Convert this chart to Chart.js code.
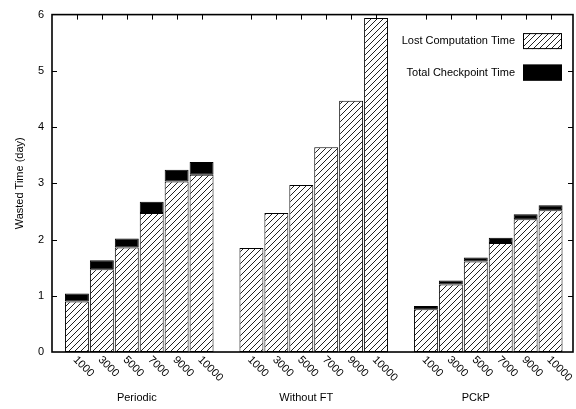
<!DOCTYPE html>
<html>
<head>
<meta charset="utf-8">
<script src="https://cdn.jsdelivr.net/npm/chart.js@4/dist/chart.umd.min.js"></script>
<style>
  html, body { margin: 0; padding: 0; background: #fff; }
  #wrap { width: 576px; height: 409px; }
</style>
</head>
<body>
<div id="wrap"><canvas id="c" width="576" height="409"></canvas></div>
<script>
// Checkpoint interval runs and the three strategies compared
const runLabels = ['1000', '3000', '5000', '7000', '9000', '10000'];
const groupNames = ['Periodic', 'Without FT', 'PCkP'];

// Wasted time in days
const periodicLost = [0.90, 1.47, 1.86, 2.47, 3.03, 3.15];
const periodicCheckpoint = [0.14, 0.16, 0.16, 0.20, 0.21, 0.23];
const withoutFtLost = [1.85, 2.47, 2.97, 3.64, 4.47, 5.94];
const pckpLost = [0.76, 1.20, 1.61, 1.94, 2.36, 2.52];
const pckpCheckpoint = [0.06, 0.07, 0.07, 0.09, 0.09, 0.09];

const yTicks = [0, 1, 2, 3, 4, 5, 6];

const FONT = '"Liberation Sans", Arial, Helvetica, sans-serif';

// each group occupies six slots on the x axis, one empty slot between groups
const groupStart = [0, 7, 14];
const groupLabelAt = [2.4, 9.2, 16.0];
const slotOf = (g, i) => groupStart[g] + i;

function series(g, values) {
  return values.map((v, i) => ({ x: slotOf(g, i), y: v }));
}

const lostPoints = [
  ...series(0, periodicLost),
  ...series(1, withoutFtLost),
  ...series(2, pckpLost)
];
const checkpointPoints = [
  ...series(0, periodicCheckpoint),
  ...series(2, pckpCheckpoint)
];

const slotTicks = [];
groupStart.forEach((s, g) => runLabels.forEach((lab, i) => slotTicks.push({ value: slotOf(g, i), label: lab })));

// diagonal hatch fill for the lost computation bars
const hatch = (() => {
  const c = document.createElement('canvas');
  c.width = 6; c.height = 6;
  const g = c.getContext('2d');
  g.fillStyle = '#fff';
  g.fillRect(0, 0, 6, 6);
  g.strokeStyle = '#222';
  g.lineWidth = 1;
  g.beginPath();
  g.moveTo(-1, 7); g.lineTo(7, -1);
  g.moveTo(-1, 1); g.lineTo(1, -1);
  g.moveTo(5, 7); g.lineTo(7, 5);
  g.stroke();
  return g.createPattern(c, 'repeat');
})();

// border box, inward tick marks, rotated run labels and the key
const framePlugin = {
  id: 'frame',
  afterDatasetsDraw(chart) {
    const { ctx, chartArea: a, scales } = chart;
    ctx.save();
    ctx.strokeStyle = '#000';
    ctx.lineWidth = 1;
    ctx.beginPath();
    scales.y.ticks.forEach(t => {
      if (t.value <= 0 || t.value >= 6) return;
      const py = Math.round(scales.y.getPixelForValue(t.value)) + 0.5;
      ctx.moveTo(a.left, py); ctx.lineTo(a.left + 5, py);
      ctx.moveTo(a.right, py); ctx.lineTo(a.right - 5, py);
    });
    slotTicks.forEach(t => {
      const px = Math.round(scales.x.getPixelForValue(t.value)) + 0.5;
      ctx.moveTo(px, a.top); ctx.lineTo(px, a.top + 5);
    });
    ctx.stroke();
    ctx.lineWidth = 1.6;
    ctx.strokeRect(a.left, a.top, a.right - a.left, a.bottom - a.top);

    // run labels, rotated downward to the right
    ctx.fillStyle = '#000';
    ctx.font = '11px ' + FONT;
    ctx.textAlign = 'left';
    ctx.textBaseline = 'middle';
    slotTicks.forEach(t => {
      const px = scales.x.getPixelForValue(t.value);
      ctx.save();
      ctx.translate(px - 2, a.bottom + 6);
      ctx.rotate(Math.PI / 4);
      ctx.fillText(t.label, 0, 0);
      ctx.restore();
    });

    // key in the upper right corner
    const ds = chart.data.datasets;
    const keyRows = [a.top + 26.5, a.top + 58];
    ds.forEach((d, i) => {
      const cy = keyRows[i];
      ctx.textAlign = 'right';
      ctx.textBaseline = 'middle';
      ctx.fillText(d.label, a.right - 58, cy);
      ctx.fillStyle = d.backgroundColor;
      ctx.fillRect(a.right - 50, cy - 8, 39, 16);
      ctx.strokeStyle = '#000';
      ctx.lineWidth = 1;
      ctx.strokeRect(a.right - 49.5, cy - 7.5, 38, 15);
      ctx.fillStyle = '#000';
    });
    ctx.restore();
  }
};

new Chart(document.getElementById('c'), {
  type: 'bar',
  data: {
    datasets: [
      {
        label: 'Lost Computation Time',
        data: lostPoints,
        backgroundColor: hatch,
        borderColor: '#000',
        borderWidth: 1,
        borderSkipped: false
      },
      {
        label: 'Total Checkpoint Time',
        data: checkpointPoints,
        backgroundColor: '#000',
        borderColor: '#000',
        borderWidth: 1,
        borderSkipped: false
      }
    ]
  },
  options: {
    responsive: false,
    animation: false,
    events: [],
    layout: { padding: { top: 14, right: 3, left: 0, bottom: 0 } },
    datasets: { bar: { categoryPercentage: 1, barPercentage: 0.96 } },
    plugins: { legend: { display: false }, tooltip: { enabled: false } },
    scales: {
      x: {
        type: 'linear',
        position: 'bottom',
        stacked: true,
        offset: false,
        min: -1,
        max: 19.9,
        grid: { display: false, offset: false },
        border: { display: false },
        ticks: { display: false },
        afterBuildTicks(scale) { scale.ticks = slotTicks.map(t => ({ value: t.value })); },
        afterFit(scale) { scale.height = 25; }
      },
      groups: {
        type: 'linear',
        position: 'bottom',
        offset: false,
        min: -1,
        max: 19.9,
        grid: { display: false, offset: false },
        border: { display: false },
        ticks: {
          autoSkip: false,
          maxRotation: 0,
          minRotation: 0,
          padding: 6,
          color: '#000',
          font: { family: FONT, size: 11 },
          callback(value) {
            const i = groupLabelAt.indexOf(value);
            return i >= 0 ? groupNames[i] : '';
          }
        },
        afterBuildTicks(scale) { scale.ticks = groupLabelAt.map(v => ({ value: v })); },
        afterFit(scale) { scale.height = 32; }
      },
      y: {
        stacked: true,
        min: 0,
        max: 6,
        grid: { display: false, drawTicks: false },
        border: { display: false },
        ticks: {
          padding: 8,
          color: '#000',
          font: { family: FONT, size: 11 },
          callback(value) { return String(value); }
        },
        afterBuildTicks(scale) { scale.ticks = yTicks.map(v => ({ value: v })); },
        afterFit(scale) { scale.width = 52; },
        title: {
          display: true,
          text: 'Wasted Time (day)',
          color: '#000',
          font: { family: FONT, size: 11 },
          padding: { top: 13, bottom: 0 }
        }
      }
    }
  },
  plugins: [framePlugin]
});
</script>
</body>
</html>
